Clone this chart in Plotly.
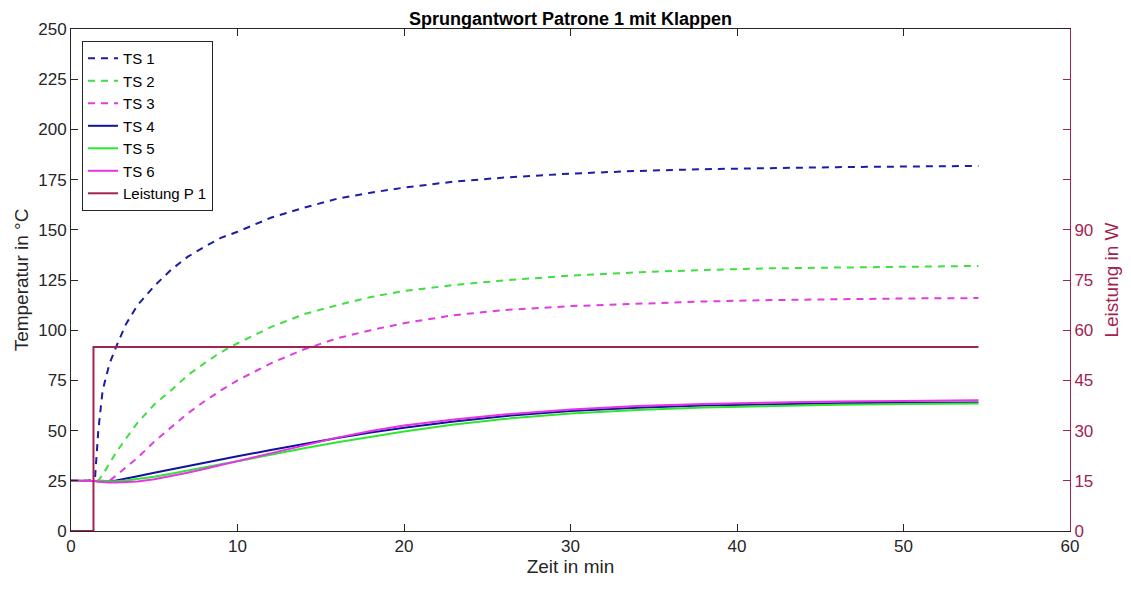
import plotly.graph_objects as go

# Zeit in min
zeit = [0, 1, 1.44, 1.64, 1.9, 2.3, 2.7, 3.3, 4, 5, 6, 7, 8, 9, 10, 12, 14, 16, 18, 20,
        23, 26, 30, 34, 38, 42, 46, 50, 54.5]

ts1 = [25, 25, 26, 50, 70, 83, 91.5, 103, 112.5, 122, 130, 136.5, 141.5, 146, 149, 156,
       161, 165.5, 168.5, 171, 174, 176, 178, 179.3, 180.2, 180.8, 181.2, 181.5, 181.8]
ts2 = [25, 25, 25, 25, 28, 33.5, 39, 46, 54, 63, 70, 77.5, 83.5, 89, 93.5, 101.5,
       108, 112.5, 116.5, 119.5, 122.5, 124.8, 127.2, 128.8, 130, 130.8, 131.3, 131.7, 132]
ts3 = [25, 25, 25, 25, 25, 25, 27.5, 31.5, 36.5, 44.5, 51.5, 58.5, 64.5, 70, 75, 83.5,
       90.5, 96, 100, 103.5, 107.5, 110, 112, 113.3, 114.3, 115, 115.5, 115.8, 116]
ts4 = [25, 25, 24.8, 24.7, 24.7, 24.8, 25.2, 26, 27.3, 29, 30.7, 32.4, 34, 35.6, 37.2, 40.3,
       43.4, 46.3, 49, 51.4, 54.5, 57.2, 59.8, 61.4, 62.5, 63.2, 63.6, 63.9, 64]
ts5 = [25, 25, 24.8, 24.7, 24.7, 24.7, 24.8, 25.1, 25.8, 27, 28.5, 30.2, 31.9, 33.3, 34.7, 38,
       41.2, 44.2, 47, 49.6, 53, 55.8, 58.5, 60.3, 61.5, 62.3, 62.9, 63.2, 63.5]
ts6 = [25.2, 25.2, 24.9, 24.5, 24.3, 24.2, 24.2, 24.3, 24.7, 25.8, 27.3, 29, 30.9, 32.9, 34.9, 38.8,
       42.7, 46.5, 49.8, 52.5, 55.5, 58, 60.5, 62.2, 63.3, 64, 64.5, 64.8, 65.1]

leistung_t = [0, 1.35, 1.35, 54.5]
leistung_w = [0, 0, 55, 55]

x_ticks = [0, 10, 20, 30, 40, 50, 60]
y_ticks = [0, 25, 50, 75, 100, 125, 150, 175, 200, 225, 250]
y2_ticks = [0, 15, 30, 45, 60, 75, 90, 105, 120, 135]
y2_labels = ["0", "15", "30", "45", "60", "75", "90", "", "", ""]

maroon = "#a2234f"
axis_col = "#262626"
dash = "7px,6px"

fig = go.Figure()
series = [
    ("TS 1", ts1, "#1c1ca6", dash),
    ("TS 2", ts2, "#3fdf3f", dash),
    ("TS 3", ts3, "#e03de0", dash),
    ("TS 4", ts4, "#12129c", "solid"),
    ("TS 5", ts5, "#2fe52f", "solid"),
    ("TS 6", ts6, "#e634e6", "solid"),
]
for name, vals, col, d in series:
    fig.add_trace(go.Scatter(x=zeit, y=vals, name=name, mode="lines",
                             line=dict(color=col, width=2, dash=d)))
fig.add_trace(go.Scatter(x=leistung_t, y=leistung_w, name="Leistung P 1", mode="lines",
                         line=dict(color=maroon, width=2), yaxis="y2"))

font = "Liberation Sans, Arial, sans-serif"
fig.update_layout(
    width=1123, height=584,
    margin=dict(l=63, r=61, t=21, b=61),
    paper_bgcolor="white", plot_bgcolor="white",
    font=dict(family=font, size=17, color=axis_col),
    title=dict(text="<b>Sprungantwort Patrone 1 mit Klappen</b>", x=0.5, xref="paper",
               xanchor="center", y=0.982, yanchor="middle",
               font=dict(size=18, color="#000000", family=font)),
    showlegend=True,
    legend=dict(x=0.011, y=0.976, xanchor="left", yanchor="top",
                bgcolor="white", bordercolor=axis_col, borderwidth=1,
                font=dict(size=15, color="#000000"), tracegroupgap=0,
                itemwidth=30),
    xaxis=dict(range=[0, 60], tickvals=x_ticks, showgrid=False, zeroline=False,
               showline=True, linecolor=axis_col, linewidth=1, mirror="ticks",
               ticks="inside", ticklen=7, tickcolor=axis_col, automargin=False,
               title=dict(text="Zeit in min", font=dict(size=19), standoff=4)),
    yaxis=dict(range=[0, 250], tickvals=y_ticks, showgrid=False, zeroline=False,
               showline=True, linecolor=axis_col, linewidth=1, automargin=False,
               ticks="inside", ticklen=7, tickcolor=axis_col,
               title=dict(text="Temperatur in °C", font=dict(size=19), standoff=4)),
    yaxis2=dict(range=[0, 150], tickvals=y2_ticks, ticktext=y2_labels, overlaying="y",
                side="right", showgrid=False, zeroline=False, automargin=False,
                showline=True, linecolor=maroon, linewidth=1,
                ticks="inside", ticklen=7, tickcolor=maroon,
                tickfont=dict(color=maroon),
                title=dict(text="Leistung in W", font=dict(size=19, color=maroon), standoff=12)),
)

fig.write_html("out.html")
